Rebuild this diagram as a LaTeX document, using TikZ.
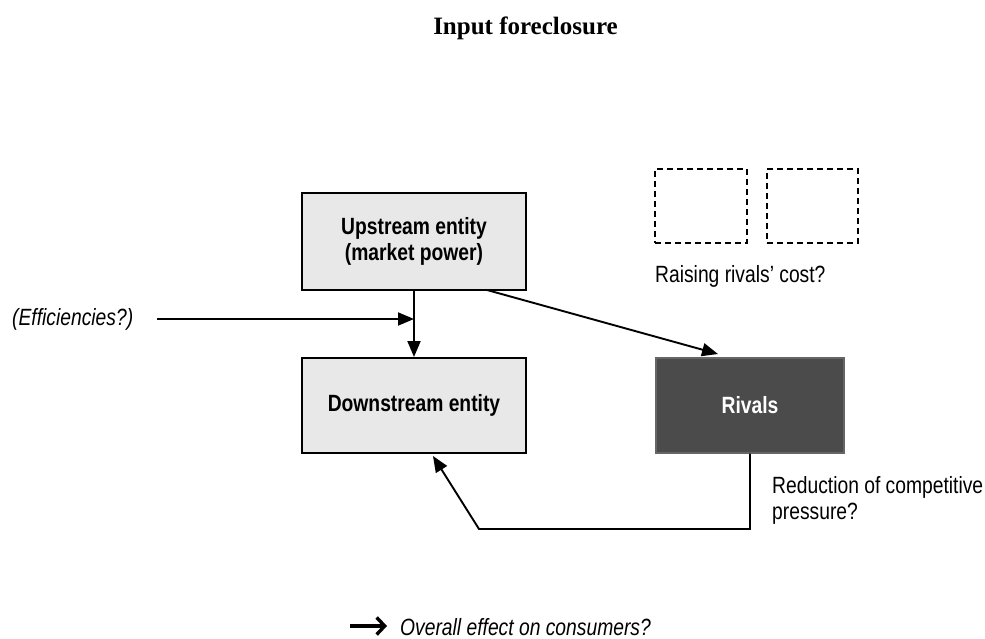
\documentclass[tikz,border=0pt]{standalone}
\usepackage{fontspec}
\setmainfont{Liberation Sans}[FakeStretch=0.82]
\newfontfamily\titlefont{Liberation Serif}
\usetikzlibrary{arrows.meta}
\definecolor{boxgray}{HTML}{E8E8E8}
\definecolor{rivgray}{HTML}{4B4B4B}
\tikzset{
  x=1pt, y=-1pt,
  bodyfont/.style={font=\fontsize{23.5}{26}\selectfont},
  entity/.style={draw=black, line width=2pt, fill=boxgray, inner sep=0pt,
    align=center, font=\bfseries\fontsize{23.5}{26}\selectfont},
  rivalbox/.style={draw=rivgray!85!white, line width=1.2pt, fill=rivgray, inner sep=0pt,
    text=white, font=\bfseries\fontsize{23.5}{26}\selectfont},
  dashbox/.style={draw=black, line width=2pt, dash pattern=on 6pt off 4pt, inner sep=0pt},
  conn/.style={line width=1.9pt, -{Triangle[length=16pt,width=13pt]}},
  plainlabel/.style={bodyfont, inner sep=0pt, align=left}
}
\begin{document}
\begin{tikzpicture}
\useasboundingbox (0,0) rectangle (985,638);
% title
\node[anchor=base, inner sep=0pt, font=\titlefont\bfseries\fontsize{25}{28}\selectfont] (title) at (525.5,34) {Input foreclosure};
% boxes
\node[entity, minimum width=224pt, minimum height=97pt] (up) at (414,241.5) {Upstream entity\\(market power)};
\node[entity, minimum width=224pt, minimum height=95pt] (down) at (414,405.5) {Downstream entity};
\node[rivalbox, minimum width=188pt, minimum height=95pt] (riv) at (750,405.5) {Rivals};
\node[dashbox, minimum width=92pt, minimum height=74pt] (d1) at (701,206) {};
\node[dashbox, minimum width=91pt, minimum height=74pt] (d2) at (812.5,206) {};
% labels
\node[plainlabel, anchor=base west] (raise) at (655,282) {Raising rivals’ cost?};
\node[plainlabel, anchor=west, font=\itshape\fontsize{23.5}{26}\selectfont] (eff) at (12,319) {(Efficiencies?)};
\node[plainlabel, anchor=north west] (red) at (772,476) {Reduction of competitive\\pressure?};
\node[plainlabel, anchor=base west, font=\itshape\fontsize{23.5}{26}\selectfont] (overall) at (400,635) {Overall effect on consumers?};
% coordinates
\coordinate (effstart) at (157,319);
\coordinate (join) at (414,319);
\coordinate (diagstart) at (487,290);
\coordinate (rivtip) at (718,354);
\coordinate (fbdown) at (750,529);
\coordinate (fbleft) at (479,529);
\coordinate (fbtip) at (433,456);
\coordinate (bigarrowstart) at (350,626);
\coordinate (bigarrowend) at (387,626);
% connectors
\draw[conn] (up.south) -- (down.north);
\draw[conn] (effstart) -- (join);
\draw[conn] (diagstart) -- (rivtip);
\draw[conn] (riv.south) -- (fbdown) -- (fbleft) -- (fbtip);
\draw[line width=3.4pt, -{Straight Barb[length=8pt,width=17pt,line width=3.4pt]}] (bigarrowstart) -- (bigarrowend);
\end{tikzpicture}
\end{document}
